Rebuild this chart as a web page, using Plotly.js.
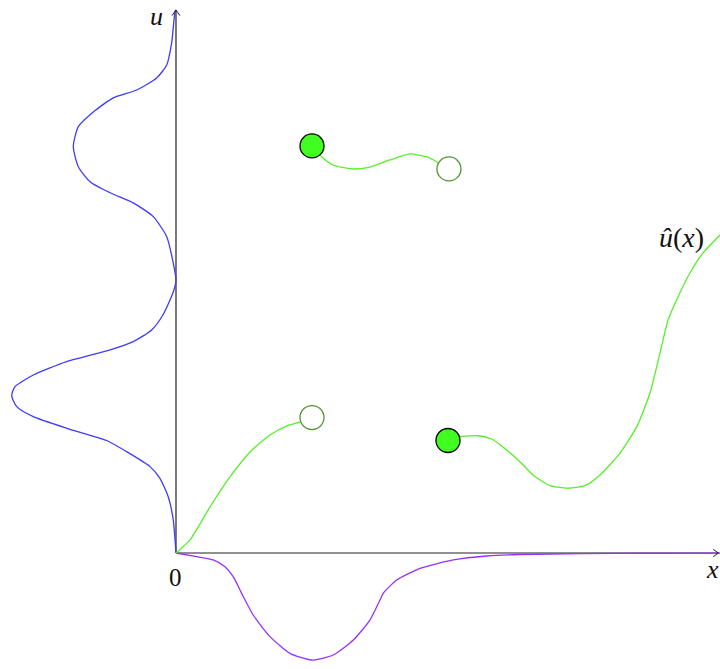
<!DOCTYPE html>
<html>
<head>
<meta charset="utf-8">
<script src="https://cdn.plot.ly/plotly-3.0.1.min.js"></script>
<style>html,body{margin:0;padding:0;background:#fff;}#chart{width:720px;height:669px;}</style>
</head>
<body>
<div id="chart"></div>
<script>
// ---- data (units: x along horizontal axis, u along vertical axis) ----
// piecewise regression function u(x), three pieces
const seg1X = [0, 0.103, 0.25, 0.397, 0.544, 0.691, 0.816, 0.912, 1.0];
const seg1U = [0, 0.096, 0.338, 0.559, 0.743, 0.868, 0.934, 0.963, 0.993];

const seg2X = [1.0, 1.071, 1.154, 1.294, 1.426, 1.574, 1.721, 1.846, 1.919, 2.0];
const seg2U = [2.993, 2.914, 2.853, 2.824, 2.838, 2.890, 2.934, 2.912, 2.875, 2.824];

const seg3X = [2.0, 2.088, 2.221, 2.321, 2.432, 2.529, 2.625, 2.75, 2.882, 3.007, 3.118, 3.265, 3.388, 3.485, 3.559, 3.618, 3.691, 3.779, 3.875, 4.0];
const seg3U = [0.827, 0.855, 0.862, 0.838, 0.757, 0.671, 0.574, 0.495, 0.476, 0.495, 0.574, 0.735, 0.929, 1.176, 1.471, 1.713, 1.882, 2.059, 2.206, 2.338];

// endpoints
const filledX = [1.0, 2.0];
const filledU = [2.993, 0.827];
const openX = [1.0, 2.007];
const openU = [0.996, 2.824];

// density of u drawn to the left of the u axis (negative offset)
const densOffset = [0, -0.007, -0.032, -0.068, -0.142, -0.289, -0.461, -0.608, -0.718, -0.755, -0.718, -0.632, -0.485, -0.314, -0.167, -0.068, -0.020, 0,
  -0.015, -0.044, -0.096, -0.179, -0.314, -0.485, -0.804, -1.049, -1.184, -1.208, -1.171, -1.049, -0.804, -0.510, -0.363, -0.191, -0.118, -0.057, -0.020, -0.007, 0];
const densU = [3.993, 3.98, 3.75, 3.588, 3.493, 3.404, 3.346, 3.243, 3.135, 2.988, 2.840, 2.730, 2.649, 2.574, 2.473, 2.326, 2.132, 2.007,
  1.934, 1.860, 1.750, 1.640, 1.554, 1.493, 1.407, 1.309, 1.223, 1.157, 1.076, 1.002, 0.917, 0.827, 0.745, 0.635, 0.549, 0.414, 0.243, 0.096, 0];

// density of x drawn below the x axis
const densX = [0, 0.152, 0.274, 0.360, 0.421, 0.483, 0.568, 0.691, 0.838, 0.998, 1.157, 1.304, 1.426, 1.5, 1.524, 1.623, 1.794, 2.039, 2.285, 2.529, 2.971, 3.485, 4.0];
const densXOffset = [0, -0.027, -0.051, -0.101, -0.174, -0.297, -0.456, -0.615, -0.738, -0.787, -0.750, -0.640, -0.493, -0.346, -0.296, -0.199, -0.113, -0.051, -0.022, -0.011, -0.005, -0.002, -0.001];

const AXIS_X_MAX = 4.0;
const AXIS_U_MAX = 3.993;

// ---- styles ----
const GREEN = 'rgb(85,240,40)';
const FILL_GREEN = 'rgb(64,255,32)';
const OPEN_GREEN = 'rgb(80,150,50)';
const BLUE = 'rgb(60,60,255)';
const PURPLE = 'rgb(150,50,255)';
const SERIF = 'Liberation Serif';

const lineTrace = (x, y, color) => ({
  x, y, type: 'scatter', mode: 'lines', hoverinfo: 'skip', showlegend: false,
  line: {color, width: 1.3, shape: 'spline', smoothing: 0.6}, cliponaxis: false
});

const traces = [
  lineTrace(densOffset, densU, BLUE),
  lineTrace(densX, densXOffset, PURPLE),
  lineTrace(seg1X, seg1U, GREEN),
  lineTrace(seg2X, seg2U, GREEN),
  lineTrace(seg3X, seg3U, GREEN),
  {x: openX, y: openU, type: 'scatter', mode: 'markers', showlegend: false, hoverinfo: 'skip',
   marker: {size: 24, color: 'white', line: {color: OPEN_GREEN, width: 1.3}}},
  {x: filledX, y: filledU, type: 'scatter', mode: 'markers', showlegend: false, hoverinfo: 'skip',
   marker: {size: 24, color: FILL_GREEN, line: {color: 'black', width: 1.3}}}
];

const axisColor = '#222';
const layout = {
  width: 720, height: 669, autosize: false,
  margin: {l: 0, r: 0, t: 0, b: 0, pad: 0},
  paper_bgcolor: 'white', plot_bgcolor: 'white',
  xaxis: {range: [-1.294, 4.0], visible: false, showgrid: false, zeroline: false, fixedrange: true},
  yaxis: {range: [-0.853, 4.066], visible: false, showgrid: false, zeroline: false, fixedrange: true},
  showlegend: false,
  shapes: [
    {type: 'line', layer: 'below', x0: 0, y0: 0, x1: AXIS_X_MAX - 0.005, y1: 0, line: {color: axisColor, width: 1.2}},
    {type: 'line', layer: 'below', x0: 0, y0: 0, x1: 0, y1: AXIS_U_MAX, line: {color: axisColor, width: 1.2}},
    {type: 'path', layer: 'above', path: `M ${AXIS_X_MAX - 0.05},0.027 L ${AXIS_X_MAX - 0.012},0 L ${AXIS_X_MAX - 0.05},-0.027`, line: {color: axisColor, width: 1}},
    {type: 'path', layer: 'above', path: `M -0.029,${AXIS_U_MAX - 0.042} L 0,${AXIS_U_MAX} L 0.029,${AXIS_U_MAX - 0.042}`, line: {color: axisColor, width: 1}}
  ],
  annotations: [
    {x: -0.147, y: 4.06, text: '<i>u</i>', showarrow: false, font: {family: SERIF, size: 26, color: '#111'}, xanchor: 'center', yanchor: 'top', borderpad: 0},
    {x: 0, y: -0.18, text: '0', showarrow: false, font: {family: SERIF, size: 25, color: '#111'}, xanchor: 'center', yanchor: 'middle'},
    {x: 3.999, y: -0.12, text: '<i>x</i>', showarrow: false, font: {family: SERIF, size: 26, color: '#111'}, xanchor: 'right', yanchor: 'middle', borderpad: 0},
    {x: 3.72, y: 2.32, text: '<i>u\u0302</i>(<i>x</i>)', showarrow: false, font: {family: SERIF, size: 28, color: '#111'}, xanchor: 'center', yanchor: 'middle'}
  ]
};

Plotly.newPlot('chart', traces, layout, {displayModeBar: false, staticPlot: true});
</script>
</body>
</html>
